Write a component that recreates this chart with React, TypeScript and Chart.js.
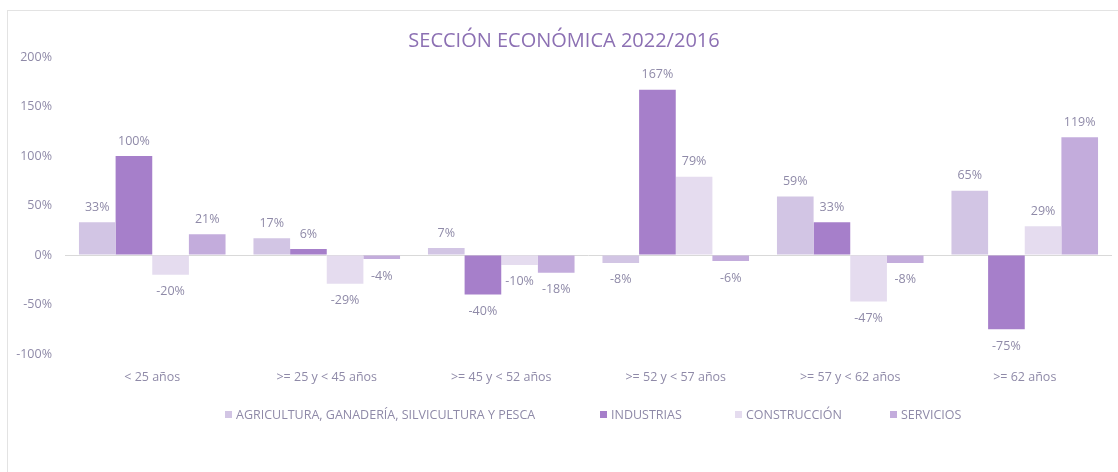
import React, { useEffect, useRef } from "react";
import { Chart, registerables } from "chart.js";

Chart.register(...registerables);

const TITLE = "SECCIÓN ECONÓMICA 2022/2016";
const CATEGORIES = [
  "< 25 años",
  ">= 25 y < 45 años",
  ">= 45 y < 52 años",
  ">= 52 y < 57 años",
  ">= 57 y < 62 años",
  ">= 62 años",
];
const SERIES_NAMES = [
  "AGRICULTURA, GANADERÍA, SILVICULTURA Y PESCA",
  "INDUSTRIAS",
  "CONSTRUCCIÓN",
  "SERVICIOS",
];
const AGRICULTURA = [33, 17, 7, -8, 59, 65];
const INDUSTRIAS = [100, 6, -40, 167, 33, -75];
const CONSTRUCCION = [-20, -29, -10, 79, -47, 29];
const SERVICIOS = [21, -4, -18, -6, -8, 119];
const SERIES_VALUES = [AGRICULTURA, INDUSTRIAS, CONSTRUCCION, SERVICIOS];
const COLORS = ["#d2c5e4", "#a67fca", "#e5dcef", "#c3acdc"];
const Y_MIN = -100;
const Y_MAX = 200;
const Y_STEP = 50;

const TEXT_COLOR = "#8f8aa8";
const FONT = "'Open Sans', 'DejaVu Sans', sans-serif";
const LEGEND_MARKER_X = [225, 600, 735, 890];

export default function App() {
  const ref = useRef<HTMLCanvasElement | null>(null);

  useEffect(() => {
    document.body.style.margin = "0";
    const canvas = ref.current;
    if (!canvas) return;

    const labelPlugin = {
      id: "valueLabels",
      afterDatasetsDraw(chart: any) {
        const ctx = chart.ctx;
        ctx.save();
        ctx.font = `12.5px ${FONT}`;
        ctx.fillStyle = TEXT_COLOR;
        ctx.textAlign = "center";
        ctx.textBaseline = "middle";
        chart.data.datasets.forEach((ds: any, i: number) => {
          const meta = chart.getDatasetMeta(i);
          meta.data.forEach((el: any, j: number) => {
            const v = ds.data[j];
            const y = v >= 0 ? el.y - 15 : el.y + 17;
            ctx.fillText(`${v}%`, el.x, y);
          });
        });
        ctx.restore();
      },
      afterDraw(chart: any) {
        const ctx = chart.ctx;
        ctx.save();
        ctx.font = `20px ${FONT}`;
        ctx.fillStyle = "#8c70b3";
        ctx.textAlign = "center";
        ctx.textBaseline = "middle";
        ctx.fillText(TITLE, 564, 41);

        ctx.font = `12.5px ${FONT}`;
        ctx.textAlign = "left";
        SERIES_NAMES.forEach((name, i) => {
          const mx = LEGEND_MARKER_X[i];
          ctx.fillStyle = COLORS[i];
          ctx.fillRect(mx, 411, 7, 7);
          ctx.fillStyle = TEXT_COLOR;
          ctx.fillText(name, mx + 11, 415);
        });
        ctx.restore();
      },
    };

    const chart = new Chart(canvas, {
      type: "bar",
      data: {
        labels: CATEGORIES,
        datasets: SERIES_NAMES.map((name, i) => ({
          label: name,
          data: SERIES_VALUES[i],
          backgroundColor: COLORS[i],
          borderWidth: 0,
          categoryPercentage: 0.84,
          barPercentage: 1.0,
        })),
      },
      options: {
        responsive: false,
        animation: false,
        layout: { padding: { top: 57, bottom: 78, left: 0, right: 6 } },
        plugins: {
          legend: { display: false },
          title: { display: false },
          tooltip: { enabled: false },
        },
        scales: {
          x: {
            grid: { display: false, drawTicks: false },
            border: { display: false },
            ticks: {
              color: TEXT_COLOR,
              font: { family: FONT, size: 12.5 },
              padding: 16,
              maxRotation: 0,
              autoSkip: false,
            },
            afterFit: (s: any) => {
              s.height = 40;
            },
          },
          y: {
            min: Y_MIN,
            max: Y_MAX,
            grid: {
              drawTicks: false,
              color: (c: any) => (c.tick && c.tick.value === 0 ? "#d9d9d9" : "rgba(0,0,0,0)"),
              lineWidth: 1,
            },
            border: { display: false },
            ticks: {
              stepSize: Y_STEP,
              color: TEXT_COLOR,
              font: { family: FONT, size: 12.5 },
              padding: 13,
              callback: (v: any) => `${v}%`,
            },
            afterFit: (s: any) => {
              s.width = 65;
            },
          },
        },
      },
      plugins: [labelPlugin],
    });

    return () => chart.destroy();
  }, []);

  return (
    <div style={{ position: "relative", width: 1118, height: 472, overflow: "hidden", background: "#fff" }}>
      <div
        style={{
          position: "absolute",
          left: 7,
          top: 10,
          width: 1120,
          height: 480,
          border: "1px solid #e3e3e3",
          boxSizing: "border-box",
        }}
      />
      <canvas ref={ref} width={1118} height={472} style={{ position: "absolute", left: 0, top: 0 }} />
    </div>
  );
}
